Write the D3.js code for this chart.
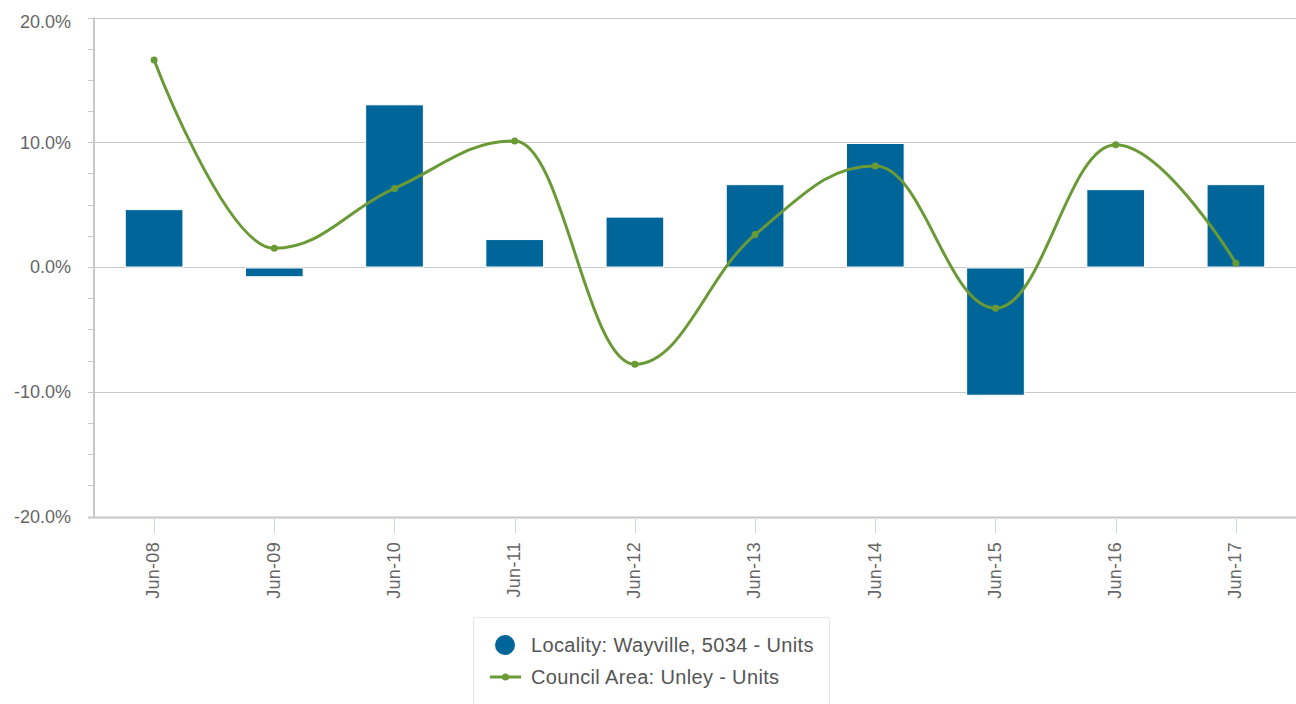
<!DOCTYPE html>
<html>
<head>
<meta charset="utf-8">
<script src="https://cdn.jsdelivr.net/npm/d3@7"></script>
<style>
  body { margin: 0; background: #fff; }
  svg { display: block; font-family: "Liberation Sans", Arial, sans-serif; }
  .ylab, .xlab { fill: #666; font-size: 18px; }
  .legtext { fill: #555; font-size: 20px; letter-spacing: 0.35px; }
</style>
</head>
<body>
<div id="chart"></div>
<script>
var months = ["Jun-08", "Jun-09", "Jun-10", "Jun-11", "Jun-12", "Jun-13", "Jun-14", "Jun-15", "Jun-16", "Jun-17"];
var localityUnits = [4.6, -0.7, 13.0, 2.2, 4.0, 6.6, 9.9, -10.2, 6.2, 6.6];
var councilUnits = [16.6, 1.5, 6.3, 10.1, -7.8, 2.6, 8.1, -3.3, 9.8, 0.3];
var yTicks = [-20, -10, 0, 10, 20];
var seriesNames = ["Locality: Wayville, 5034 - Units", "Council Area: Unley - Units"];

var blue = "#006699";
var green = "#6a9a36";

var svgWidth = 1296;
var svgHeight = 704;

var svg = d3.select("#chart")
  .append("svg")
  .attr("width", svgWidth)
  .attr("height", svgHeight);

var x = d3.scaleBand()
  .domain(months)
  .range([94, 1296])
  .paddingInner(0.52)
  .paddingOuter(0.26);

var y = d3.scaleLinear()
  .domain([-20, 20])
  .range([516.5, 17.5]);

// minor ticks on the y axis
var minor = d3.range(-20, 20.01, 2.5);
svg.append("g")
  .selectAll("line")
  .data(minor)
  .enter()
  .append("line")
  .attr("x1", 88)
  .attr("x2", 94)
  .attr("y1", d => Math.round(y(d)) + 0.5)
  .attr("y2", d => Math.round(y(d)) + 0.5)
  .attr("stroke", "#c8c8c8");

// grid lines
svg.append("g")
  .selectAll("line")
  .data(yTicks)
  .enter()
  .append("line")
  .attr("x1", 88)
  .attr("x2", 1296)
  .attr("y1", d => Math.round(y(d)) + 0.5)
  .attr("y2", d => Math.round(y(d)) + 0.5)
  .attr("stroke", "#c8c8c8")
  .attr("stroke-width", d => d === -20 ? 2 : 1);

// y axis line
svg.append("line")
  .attr("x1", 94)
  .attr("x2", 94)
  .attr("y1", y(20))
  .attr("y2", y(-20) + 1)
  .attr("stroke", "#c8c8c8")
  .attr("stroke-width", 2);

// y labels (plain hyphen for negatives, like the original)
svg.append("g")
  .selectAll("text")
  .data(yTicks)
  .enter()
  .append("text")
  .attr("class", "ylab")
  .attr("x", 71)
  .attr("y", d => y(d) + (d === 20 ? 4 : 0))
  .attr("dy", "0.35em")
  .attr("text-anchor", "end")
  .text(d => d.toFixed(1) + "%");

// x ticks + labels
var xg = svg.append("g");
xg.selectAll("line")
  .data(months)
  .enter()
  .append("line")
  .attr("x1", d => Math.round(x(d) + x.bandwidth() / 2) + 0.5)
  .attr("x2", d => Math.round(x(d) + x.bandwidth() / 2) + 0.5)
  .attr("y1", 517)
  .attr("y2", 533)
  .attr("stroke", "#ccd6eb");

xg.selectAll("text")
  .data(months)
  .enter()
  .append("text")
  .attr("class", "xlab")
  .attr("transform", d => "translate(" + (x(d) + x.bandwidth() / 2 - 1) + ",542) rotate(-90)")
  .attr("dy", "0.35em")
  .attr("text-anchor", "end")
  .style("letter-spacing", "0.3px")
  .text(d => d);

// bars
svg.append("g")
  .selectAll("rect")
  .data(localityUnits)
  .enter()
  .append("rect")
  .attr("x", (d, i) => x(months[i]))
  .attr("width", x.bandwidth())
  .attr("y", d => d >= 0 ? y(d) : y(0) + 1)
  .attr("height", d => Math.abs(y(d) - y(0)))
  .attr("fill", blue)
  .attr("stroke", "#fff")
  .attr("stroke-width", 1);

// Highcharts-style spline
function splinePath(pts) {
  var smoothing = 1.5, denom = smoothing + 1;
  var right = [];
  var left = [];
  pts.forEach(function(p, i) {
    var last = pts[i - 1], next = pts[i + 1];
    if (last && next) {
      var lcx = (smoothing * p[0] + last[0]) / denom;
      var lcy = (smoothing * p[1] + last[1]) / denom;
      var rcx = (smoothing * p[0] + next[0]) / denom;
      var rcy = (smoothing * p[1] + next[1]) / denom;
      var corr = ((rcy - lcy) * (rcx - p[0])) / (rcx - lcx) + p[1] - rcy;
      lcy += corr;
      rcy += corr;
      if (lcy > last[1] && lcy > p[1]) { lcy = Math.max(last[1], p[1]); rcy = 2 * p[1] - lcy; }
      else if (lcy < last[1] && lcy < p[1]) { lcy = Math.min(last[1], p[1]); rcy = 2 * p[1] - lcy; }
      if (rcy > next[1] && rcy > p[1]) { rcy = Math.max(next[1], p[1]); lcy = 2 * p[1] - rcy; }
      else if (rcy < next[1] && rcy < p[1]) { rcy = Math.min(next[1], p[1]); lcy = 2 * p[1] - rcy; }
      left[i] = [lcx, lcy];
      right[i] = [rcx, rcy];
    } else {
      left[i] = p;
      right[i] = p;
    }
  });
  var path = d3.path();
  path.moveTo(pts[0][0], pts[0][1]);
  for (var i = 1; i < pts.length; i++) {
    path.bezierCurveTo(right[i - 1][0], right[i - 1][1], left[i][0], left[i][1], pts[i][0], pts[i][1]);
  }
  return path.toString();
}

var linePts = councilUnits.map((v, i) => [x(months[i]) + x.bandwidth() / 2, y(v)]);

svg.append("path")
  .attr("d", splinePath(linePts))
  .attr("fill", "none")
  .attr("stroke", green)
  .attr("stroke-width", 3)
  .attr("stroke-linejoin", "round");

svg.append("g")
  .selectAll("circle")
  .data(linePts)
  .enter()
  .append("circle")
  .attr("cx", d => d[0])
  .attr("cy", d => d[1])
  .attr("r", 3.5)
  .attr("fill", green);

// legend
var legend = svg.append("g");
legend.append("rect")
  .attr("x", 473.5)
  .attr("y", 617.5)
  .attr("width", 356)
  .attr("height", 100)
  .attr("rx", 2)
  .attr("fill", "#fff")
  .attr("stroke", "#e6e6e6");

legend.append("circle")
  .attr("cx", 505)
  .attr("cy", 645)
  .attr("r", 10)
  .attr("fill", blue);

legend.append("line")
  .attr("x1", 490)
  .attr("x2", 521)
  .attr("y1", 677)
  .attr("y2", 677)
  .attr("stroke", green)
  .attr("stroke-width", 3);

legend.append("circle")
  .attr("cx", 505.5)
  .attr("cy", 677)
  .attr("r", 3.5)
  .attr("fill", green);

legend.selectAll("text")
  .data(seriesNames)
  .enter()
  .append("text")
  .attr("class", "legtext")
  .attr("x", 531)
  .attr("y", (d, i) => 645 + i * 32)
  .attr("dy", "0.35em")
  .text(d => d);
</script>
</body>
</html>
